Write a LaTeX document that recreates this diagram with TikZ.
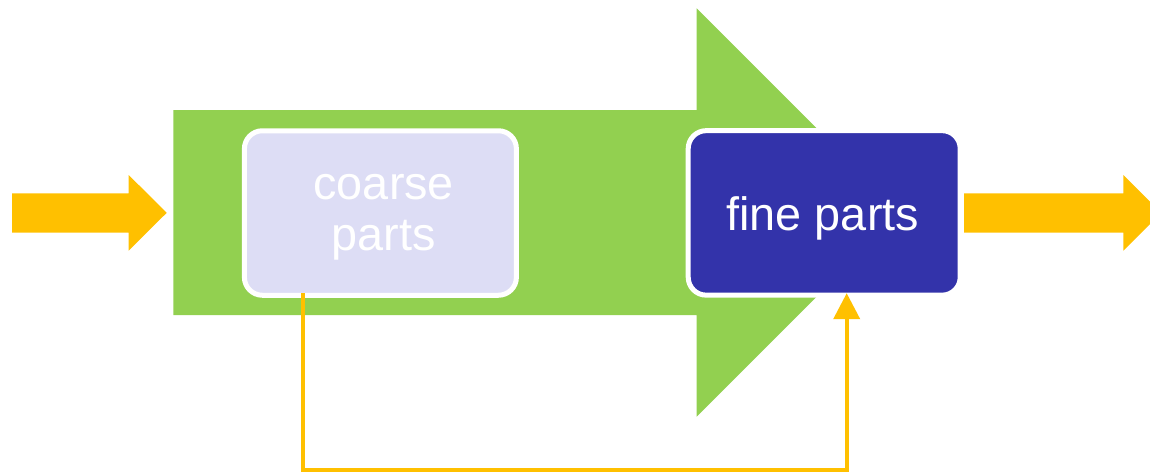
\documentclass[tikz,border=0pt]{standalone}
\usepackage{fontspec}
\setmainfont{Liberation Sans}
\usetikzlibrary{arrows.meta}
\definecolor{orng}{HTML}{FFC000}
\definecolor{grn}{HTML}{92D050}
\definecolor{dblue}{HTML}{3333AA}
\definecolor{lav}{HTML}{DDDDF5}
\begin{document}
\begin{tikzpicture}[x=1pt,y=-1pt,
  partbox/.style={draw=white, line width=5pt, rounded corners=18pt,
    minimum width=272pt, minimum height=164.5pt, text=white, align=center,
    font=\fontsize{46.8}{50.5}\selectfont, inner sep=0pt, outer sep=0pt},
  bigarrow/.style={fill=grn},
  flowarrow/.style={fill=orng},
  feedback/.style={draw=orng, line width=4pt, -{Triangle[width=26pt,length=26pt]}}]
\useasboundingbox (0,0) rectangle (1150,472);
\clip (0,0) rectangle (1150,472);
% big green process arrow
\fill[bigarrow] (173.3,110) -- (696.7,110) -- (696.7,8.3) -- (900.9,212.5)
  -- (696.7,416.7) -- (696.7,315) -- (173.3,315) -- cycle;
% input and output arrows
\fill[flowarrow] (12,193.3) -- (128.7,193.3) -- (128.7,175) -- (166.7,212.8)
  -- (128.7,250.7) -- (128.7,232.7) -- (12,232.7) -- cycle;
\fill[flowarrow] (964,193.3) -- (1123.3,193.3) -- (1123.3,175) -- (1161.3,212.8)
  -- (1123.3,250.7) -- (1123.3,232.7) -- (964,232.7) -- cycle;
% boxes
\node[partbox, fill=lav, text height=80pt, text depth=6pt] (coarse) at (380.4,213)
  {\hspace*{6.8pt}coarse\\\hspace*{6.8pt}parts};
\node[partbox, fill=dblue, text height=40pt, text depth=5.8pt] (fine) at (824.2,212.9)
  {\hspace*{-2.8pt}fine parts};
% feedback
\draw[feedback] ([xshift=-77pt,yshift=2pt]coarse.south) -- ++(0,176.7)
  -| ([xshift=22.5pt,yshift=2pt]fine.south);
\end{tikzpicture}
\end{document}
